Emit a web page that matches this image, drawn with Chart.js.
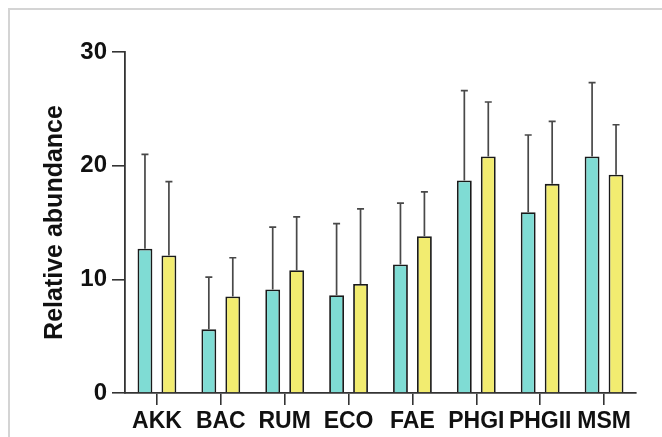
<!DOCTYPE html>
<html>
<head>
<meta charset="utf-8">
<script src="https://cdn.jsdelivr.net/npm/chart.js@4"></script>
<style>
  html, body { margin: 0; padding: 0; background: #fff; }
  #wrap { position: relative; width: 662px; height: 437px; }
  #frame { position: absolute; left: 8px; top: 8px; right: -4px; bottom: -4px; border-left: 2px solid #d4d4d4; border-top: 2px solid #d4d4d4; }
  canvas { position: absolute; left: 0; top: 0; }
</style>
</head>
<body>
<div id="wrap">
  <div id="frame"></div>
  <canvas id="abundanceChart" width="662" height="437"></canvas>
</div>
<script>
// categories and the two groups (mean + upper SD)
const categories = ['AKK', 'BAC', 'RUM', 'ECO', 'FAE', 'PHGI', 'PHGII', 'MSM'];
const tealMeans = [12.7, 5.6, 9.1, 8.6, 11.3, 18.7, 15.9, 20.8];
const tealSD = [8.3, 4.6, 5.5, 6.3, 5.4, 7.9, 6.8, 6.5];
const yellowMeans = [12.1, 8.5, 10.8, 9.6, 13.8, 20.8, 18.4, 19.2];
const yellowSD = [6.5, 3.4, 4.7, 6.6, 3.9, 4.8, 5.5, 4.4];
const yTicks = [0, 10, 20, 30];

// draws the upward SD whiskers on top of each bar
const errorBars = {
  id: 'errorBars',
  afterDatasetsDraw(chart) {
    const ctx = chart.ctx;
    const yScale = chart.scales.y;
    chart.data.datasets.forEach((ds, i) => {
      const meta = chart.getDatasetMeta(i);
      meta.data.forEach((bar, j) => {
        const top = yScale.getPixelForValue(ds.data[j] + ds.sd[j]);
        ctx.save();
        ctx.strokeStyle = '#484848';
        ctx.lineWidth = 1.7;
        ctx.beginPath();
        ctx.moveTo(bar.x, bar.y);
        ctx.lineTo(bar.x, top);
        ctx.moveTo(bar.x - 3.5, top);
        ctx.lineTo(bar.x + 3.5, top);
        ctx.stroke();
        ctx.restore();
      });
    });
  }
};

const ctx = document.getElementById('abundanceChart').getContext('2d');
const abundanceChart = new Chart(ctx, {
  type: 'bar',
  data: {
    labels: categories,
    datasets: [
      {
        label: 'Group 1',
        data: tealMeans,
        sd: tealSD,
        backgroundColor: '#7fdcd4',
        borderColor: '#1a1a1a',
        borderWidth: 1.8,
        borderSkipped: 'bottom'
      },
      {
        label: 'Group 2',
        data: yellowMeans,
        sd: yellowSD,
        backgroundColor: '#f2ec70',
        borderColor: '#1a1a1a',
        borderWidth: 1.8,
        borderSkipped: 'bottom'
      }
    ]
  },
  options: {
    responsive: false,
    animation: false,
    categoryPercentage: 0.75,
    barPercentage: 0.62,
    layout: { padding: { left: 0, right: 26, top: 52, bottom: 0 } },
    plugins: {
      legend: { display: false },
      tooltip: { enabled: false }
    },
    scales: {
      x: {
        afterFit: scale => { scale.height = 44; },
        grid: { drawOnChartArea: false, offset: false, tickLength: 12, color: '#333', lineWidth: 1.6 },
        border: { color: '#333', width: 1.8 },
        ticks: {
          autoSkip: false,
          maxRotation: 0,
          padding: 3,
          color: '#111',
          font: { family: 'Liberation Sans, Arial, sans-serif', size: 23, weight: 'bold' }
        }
      },
      y: {
        min: 0,
        max: 30,
        afterBuildTicks: scale => { scale.ticks = yTicks.map(v => ({ value: v })); },
        afterFit: scale => { scale.width = 125; },
        grid: { drawOnChartArea: false, tickLength: 13, color: '#333', lineWidth: 1.6 },
        border: { color: '#333', width: 1.8 },
        ticks: {
          padding: 5,
          color: '#111',
          font: { family: 'Liberation Sans, Arial, sans-serif', size: 24, weight: 'bold' }
        },
        title: {
          display: true,
          text: 'Relative abundance',
          color: '#111',
          padding: { top: 40 },
          font: { family: 'Liberation Sans, Arial, sans-serif', size: 25, weight: 'bold' }
        }
      }
    }
  },
  plugins: [errorBars]
});
</script>
</body>
</html>
